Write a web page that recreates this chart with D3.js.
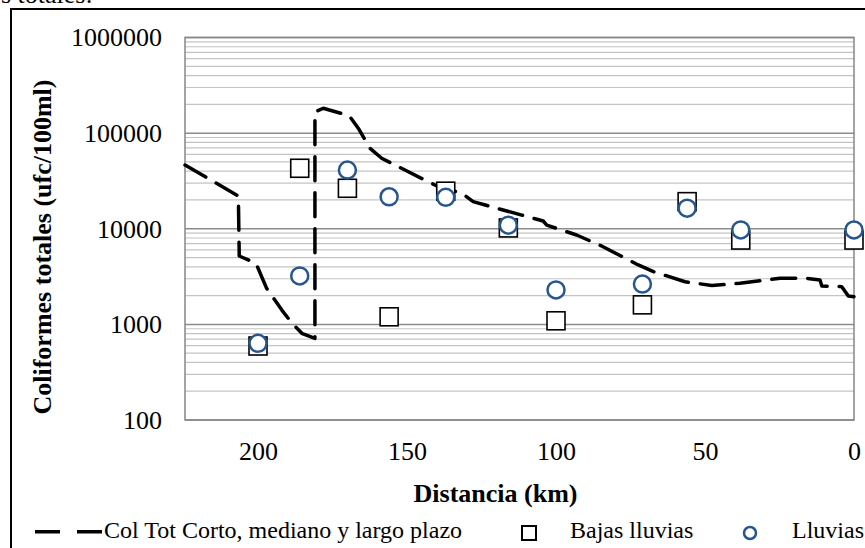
<!DOCTYPE html>
<html>
<head>
<meta charset="utf-8">
<script src="https://cdn.jsdelivr.net/npm/d3@7/dist/d3.min.js"></script>
<style>
  html, body { margin: 0; padding: 0; background: #fff; }
  svg, svg text { font-family: "Liberation Serif", "Times New Roman", serif; }
  svg { display: block; }
</style>
</head>
<body>
<svg id="chart" width="865" height="548"></svg>
<script>
// Distance along the river (km) of each sampling station
const stationKm = [200, 186, 170, 156, 137, 116, 100, 71, 56, 38, 0];
// Total coliforms (ufc/100ml) in the low-rain season
const bajasLluvias = [594, 42900, 26500, 1200, 24700, 10200, 1090, 1600, 19200, 7620, 7620];
// Total coliforms (ufc/100ml) in the rainy season
const lluvias = [634, 3210, 41100, 21600, 21300, 10900, 2290, 2640, 16400, 9710, 9710];

// Modelled profile: short, medium and long term
const modelKm = [224.5, 206.6, 206.3, 200.7, 197.1, 192.0, 188.7, 185.3, 180.9, 180.9, 178.1,
  169.4, 166.3, 162.4, 158.5, 150.7, 140.0, 131.6, 127.8, 119.9, 111.5, 104.3, 103.1,
  93.1, 84.7, 72.4, 67.3, 56.7, 47.7, 38.3, 24.8, 15.9, 11.4, 10.8, 4.1, 1.9, 0];
const modelVal = [46400, 22000, 5190, 4360, 2380, 1410, 1040, 807, 714, 166000, 182000,
  152000, 112000, 69300, 54600, 41100, 28000, 23500, 19200, 16400, 13900, 12050, 10900,
  8600, 6600, 4180, 3560, 2790, 2550, 2690, 3030, 3030, 2910, 2520, 2480, 1980, 1950];

const xTicks = [200, 150, 100, 50, 0];
const yTicks = [100, 1000, 10000, 100000, 1000000];

const svg = d3.select("#chart");
const serif = '"Liberation Serif", "Times New Roman", serif';

const plot = { left: 185, right: 854, top: 37.5, bottom: 420 };
const x = d3.scaleLinear().domain([224.5, 0]).range([plot.left, plot.right]);
const y = d3.scaleLog().domain([100, 1000000]).range([plot.bottom, plot.top]);

// caption fragment above the frame
svg.append("text").attr("x", 1).attr("y", 3).attr("font-size", 26).text("s totales:");

// outer chart frame
svg.append("rect").attr("x", 11).attr("y", 9).attr("width", 870).attr("height", 560)
  .attr("fill", "none").attr("stroke", "#000").attr("stroke-width", 2);

// minor gridlines
const minor = [];
for (let e = 2; e < 6; e++) for (let k = 2; k <= 9; k++) minor.push(k * Math.pow(10, e));
svg.append("g").selectAll("line").data(minor).join("line")
  .attr("x1", plot.left).attr("x2", plot.right)
  .attr("y1", d => y(d)).attr("y2", d => y(d))
  .attr("stroke", "#c4c4c4").attr("stroke-width", 1.2);

// major gridlines
svg.append("g").selectAll("line").data(yTicks).join("line")
  .attr("x1", plot.left).attr("x2", plot.right)
  .attr("y1", d => y(d)).attr("y2", d => y(d))
  .attr("stroke", "#8c8c8c").attr("stroke-width", 1.5);

// plot area border
svg.append("rect").attr("x", plot.left).attr("y", plot.top)
  .attr("width", plot.right - plot.left).attr("height", plot.bottom - plot.top)
  .attr("fill", "none").attr("stroke", "#868686").attr("stroke-width", 1.5);

// y axis
const yAxis = svg.append("g").attr("transform", `translate(${plot.left},0)`)
  .call(d3.axisLeft(y).tickValues(yTicks).tickFormat(d3.format("d")).tickSize(0).tickPadding(23));
yAxis.attr("font-family", null).attr("font-size", null);
yAxis.select(".domain").remove();
yAxis.selectAll("text").style("font-family", serif).style("font-size", "26px").attr("fill", "#000");

// x axis
const xAxis = svg.append("g").attr("transform", `translate(0,${plot.bottom})`)
  .call(d3.axisBottom(x).tickValues(xTicks).tickFormat(d3.format("d")).tickSize(0));
xAxis.attr("font-family", null).attr("font-size", null);
xAxis.select(".domain").remove();
xAxis.selectAll("text").style("font-family", serif).style("font-size", "26px")
  .attr("fill", "#000").attr("y", 40).attr("dy", 0);

// axis titles
svg.append("text").attr("x", 495.5).attr("y", 502).attr("text-anchor", "middle")
  .attr("font-size", 26).attr("font-weight", "bold").text("Distancia (km)");
svg.append("text").attr("transform", "translate(51,247) rotate(-90)").attr("text-anchor", "middle")
  .attr("font-size", 26).attr("font-weight", "bold").text("Coliformes totales (ufc/100ml)");

// modelled dashed profile
const modelPts = modelKm.map((k, i) => [k, modelVal[i]]);
const line = d3.line().x(d => x(d[0])).y(d => y(d[1])).curve(d3.curveLinear);
svg.append("path").datum(modelPts).attr("d", line)
  .attr("fill", "none").attr("stroke", "#000").attr("stroke-width", 3.5)
  .attr("stroke-dasharray", "24,12").attr("stroke-linecap", "round").attr("stroke-linejoin", "round");

// low-rain squares
const sq = 18;
svg.append("g").selectAll("rect").data(stationKm.map((k, i) => [k, bajasLluvias[i]])).join("rect")
  .attr("x", d => x(d[0]) - sq / 2).attr("y", d => y(d[1]) - sq / 2)
  .attr("width", sq).attr("height", sq)
  .attr("fill", "#fff").attr("stroke", "#000").attr("stroke-width", 1.6);

// rainy-season circles
const blue = "#26568f";
svg.append("g").selectAll("circle").data(stationKm.map((k, i) => [k, lluvias[i]])).join("circle")
  .attr("cx", d => x(d[0])).attr("cy", d => y(d[1])).attr("r", 8.5)
  .attr("fill", "#fff").attr("stroke", blue).attr("stroke-width", 2.5);

// legend
const lg = svg.append("g").attr("font-size", 24);
lg.append("line").attr("x1", 35).attr("x2", 103).attr("y1", 531.7).attr("y2", 531.7)
  .attr("stroke", "#000").attr("stroke-width", 3.5).attr("stroke-dasharray", "25,17");
lg.append("text").attr("x", 104).attr("y", 538).text("Col Tot Corto, mediano y largo plazo");
lg.append("rect").attr("x", 522).attr("y", 526).attr("width", 14).attr("height", 14)
  .attr("fill", "#fff").attr("stroke", "#000").attr("stroke-width", 2);
lg.append("text").attr("x", 570).attr("y", 538).text("Bajas lluvias");
lg.append("circle").attr("cx", 750).attr("cy", 533).attr("r", 6)
  .attr("fill", "#fff").attr("stroke", blue).attr("stroke-width", 2.5);
lg.append("text").attr("x", 792).attr("y", 538).text("Lluvias");
</script>
</body>
</html>
